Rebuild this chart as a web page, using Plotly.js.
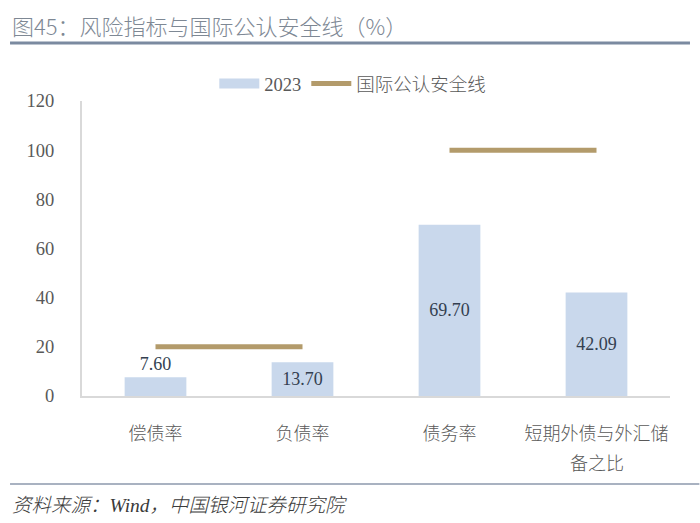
<!DOCTYPE html>
<html><head><meta charset="utf-8">
<script src="https://cdn.plot.ly/plotly-3.0.1.min.js"></script>
<style>body{margin:0;background:#fff}#chart{width:700px;height:523px}</style>
</head><body><div id="chart"></div>
<script>
const categories = ['偿债率', '负债率', '债务率', '短期外债与外汇储备之比'];
const tickLine1 = ['偿债率', '负债率', '债务率', '短期外债与外汇储'];
const tickLine2 = ['', '', '', '备之比'];
const values2023 = [7.60, 13.70, 69.70, 42.09];
const safetyLine = [20, 20, 100, 100];
const barLabels = values2023.map(v => v.toFixed(2));
const yTicks = [0, 20, 40, 60, 80, 100, 120];

const serifCJK = "'Liberation Serif', 'Noto Sans CJK SC', serif";
const sansCJK = "'Noto Sans CJK SC', sans-serif";
const barColor = '#C9D8EC';
const lineColor = '#B39B6B';

// Safety line drawn as two segments (pairs of categories)
const lineX = [categories[0], categories[1], null, categories[2], categories[3]];
const lineY = [safetyLine[0], safetyLine[1], null, safetyLine[2], safetyLine[3]];

const traces = [
  {
    type: 'bar', name: '2023', x: categories, y: values2023,
    marker: {color: barColor},
    width: 0.42, showlegend: false,
    text: barLabels,
    textposition: values2023.map(v => v < 10 ? 'outside' : 'inside'),
    insidetextanchor: 'middle',
    constraintext: 'none',
    cliponaxis: false,
    textfont: {family: serifCJK, size: 18, color: '#333f50'},
    hoverinfo: 'skip'
  },
  { // legend entry for the bars (wide swatch like the reference)
    type: 'scatter', mode: 'lines', name: '2023', x: [null], y: [null],
    line: {color: barColor, width: 12}, hoverinfo: 'skip'
  },
  {
    type: 'scatter', mode: 'lines', name: '国际公认安全线',
    x: lineX, y: lineY, connectgaps: false,
    line: {color: lineColor, width: 5},
    hoverinfo: 'skip'
  }
];

const annotations = [
  {text: '资料来源：Wind，中国银河证券研究院', xref: 'paper', yref: 'paper',
   x: -0.122, xanchor: 'left', y: -0.37, yanchor: 'middle', showarrow: false,
   font: {family: serifCJK, size: 19.5, color: '#3a3a3a', weight: 300, style: 'italic'}}
];
tickLine2.forEach((t, i) => {
  if (t) annotations.push({
    text: t, x: categories[i], xref: 'x', yref: 'paper', y: -0.2237, yanchor: 'middle',
    showarrow: false, font: {family: sansCJK, size: 18, color: '#595959', weight: 300}
  });
});

const layout = {
  width: 700, height: 523,
  margin: {l: 82, r: 30, t: 101, b: 127},
  paper_bgcolor: '#fff', plot_bgcolor: '#fff',
  showlegend: true,
  title: {
    text: '图45：风险指标与国际公认安全线（%）',
    x: 12/700, xanchor: 'left', xref: 'container',
    y: 1 - 27/523, yanchor: 'middle', yref: 'container',
    font: {family: sansCJK, size: 22, color: '#7E8894', weight: 300}
  },
  legend: {
    orientation: 'h', x: 0.225, xanchor: 'left', y: 1.058, yanchor: 'middle',
    font: {family: serifCJK, size: 18.5, color: '#595959', weight: 300},
    itemwidth: 40, traceorder: 'normal', bgcolor: 'rgba(0,0,0,0)'
  },
  xaxis: {
    type: 'category', showgrid: false, zeroline: false,
    tickvals: categories, ticktext: tickLine1,
    showline: true, linecolor: '#D9D9D9', linewidth: 2,
    ticks: 'outside', ticklen: 20, tickcolor: 'rgba(0,0,0,0)',
    tickfont: {family: sansCJK, size: 18, color: '#595959', weight: 300},
    fixedrange: true
  },
  yaxis: {
    range: [0, 120], tickvals: yTicks, ticktext: yTicks.map(String),
    showgrid: false, zeroline: false,
    showline: true, linecolor: '#D9D9D9', linewidth: 2,
    ticks: 'outside', ticklen: 22, tickcolor: 'rgba(0,0,0,0)',
    tickfont: {family: serifCJK, size: 18.5, color: '#595959'},
    fixedrange: true
  },
  shapes: [
    {type: 'line', xref: 'paper', yref: 'paper', x0: -0.1224, x1: 1.034, y0: 1.1966, y1: 1.1966,
     line: {color: '#7B8AA0', width: 3}},
    {type: 'line', xref: 'paper', yref: 'paper', x0: -0.1224, x1: 1.05, y0: -0.298, y1: -0.298,
     line: {color: '#8C99AD', width: 1.5}}
  ],
  annotations: annotations
};

Plotly.newPlot('chart', traces, layout, {displayModeBar: false, staticPlot: true});
</script></body></html>
